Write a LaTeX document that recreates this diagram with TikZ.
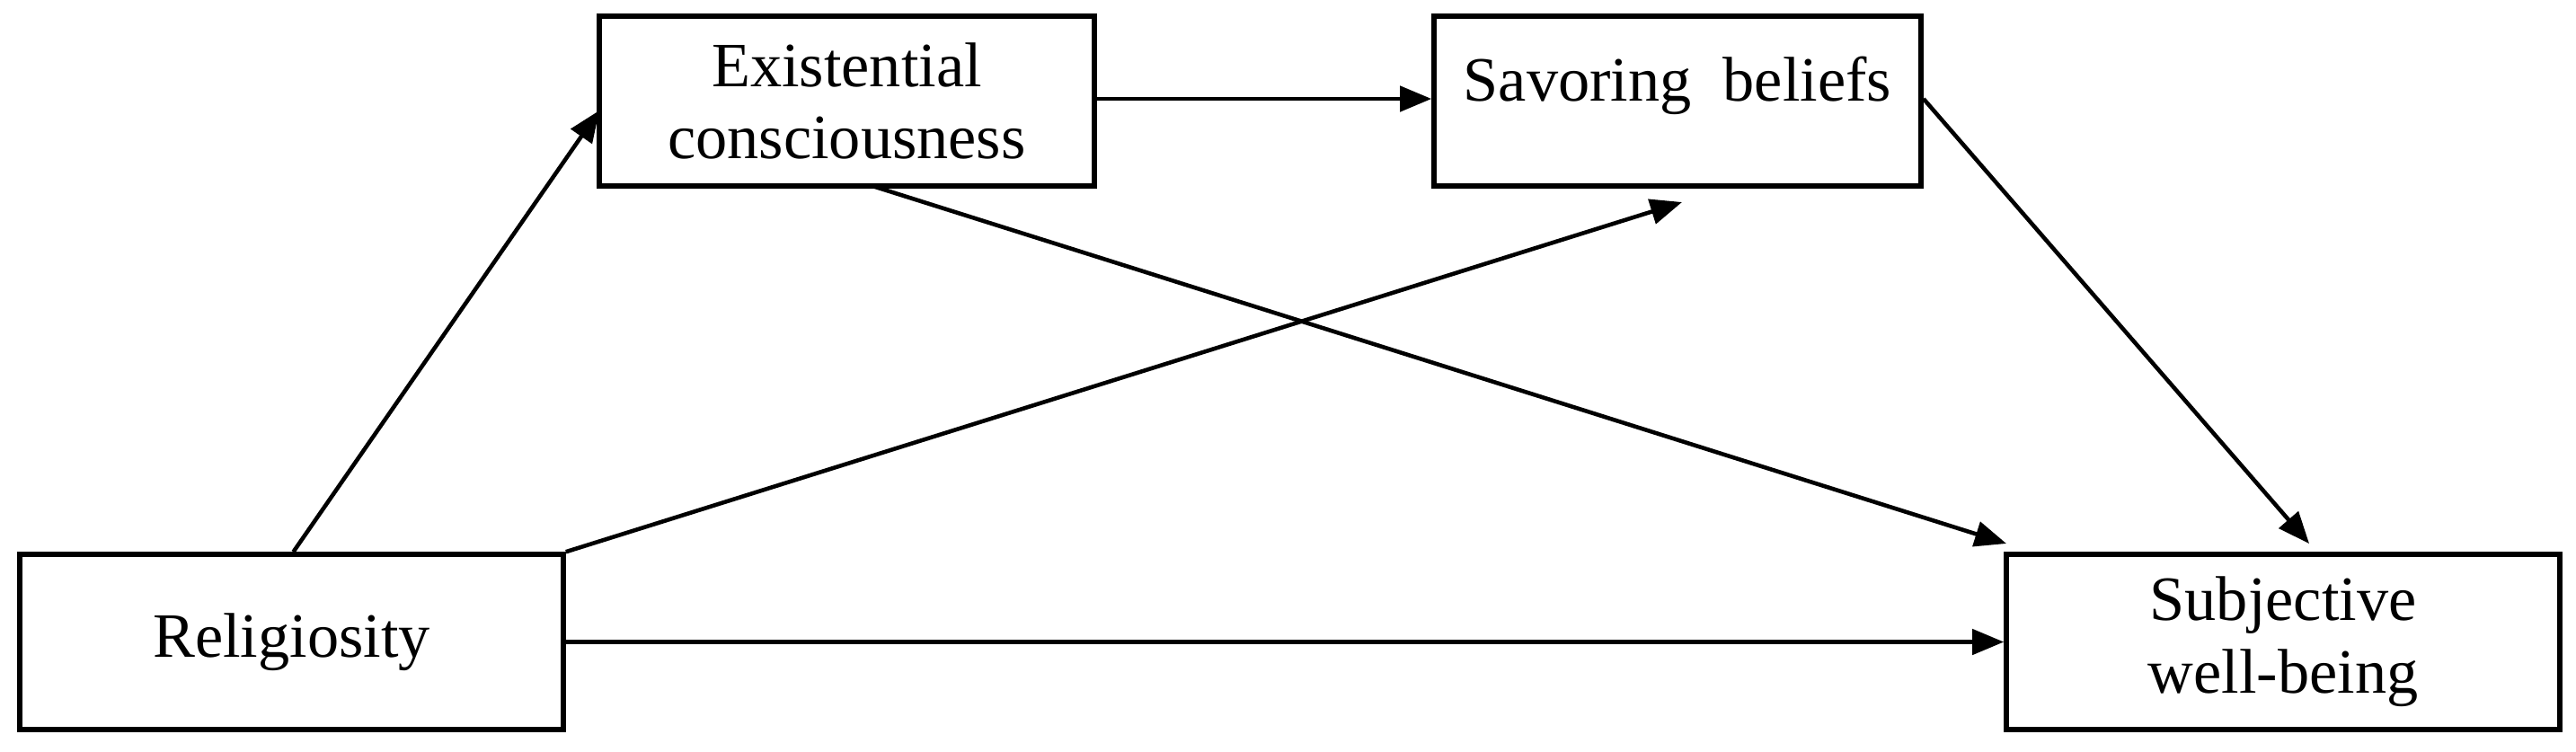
\documentclass[tikz,border=0pt]{standalone}
\usepackage{fontspec}
\setmainfont{Liberation Serif}
\usetikzlibrary{arrows.meta}
\begin{document}
\begin{tikzpicture}[
  box/.style={draw, line width=1.6pt, inner sep=0pt, align=center, font=\fontsize{20}{23}\selectfont},
  arr/.style={line width=1.3pt, -{Triangle[length=10pt,width=8pt]}}]
\useasboundingbox (0,0) rectangle (28.67,8.36);
\node[box, minimum width=6.05cm, minimum height=1.95cm] (rel) at (3.245,1.215) {Religiosity};
\node[box, minimum width=5.51cm, minimum height=1.89cm] (ex) at (9.425,7.235) {Existential\\consciousness};
\node[box, minimum width=5.42cm, minimum height=1.89cm, text depth=0.5cm] (sav) at (18.67,7.235) {Savoring\ \ beliefs};
\node[box, minimum width=6.16cm, minimum height=1.95cm] (sub) at (25.41,1.215) {Subjective\\well-being};
\coordinate (savb) at (18.72,6.11);
\coordinate (subt1) at (22.33,2.31);
\coordinate (subt2) at (25.70,2.31);
\draw[arr] (rel.north) ++(0.02,0) -- (6.67,7.13);
\draw[arr] (rel.north east) -- (savb);
\draw[arr] (ex.east |- 0,7.26) -- (sav.west |- 0,7.26);
\draw[arr] (9.71,6.29) -- (subt1);
\draw[arr] (sav.east |- 0,7.26) -- (subt2);
\draw[arr] (rel.east) -- (sub.west);
\end{tikzpicture}
\end{document}
